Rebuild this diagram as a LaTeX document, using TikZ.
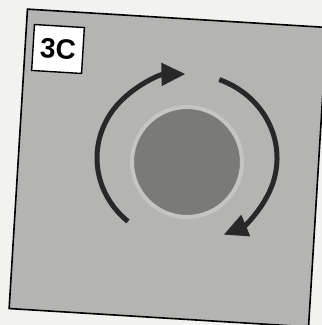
\documentclass[tikz,border=0pt]{standalone}
\usepackage{fontspec}
\setsansfont{Liberation Sans}
\usepackage{tikz}
\usetikzlibrary{arrows.meta}
\definecolor{PaperWhite}{RGB}{242,242,240}
\definecolor{PanelGrey}{RGB}{180,180,178}
\definecolor{CellGrey}{RGB}{122,122,120}
\definecolor{HaloGrey}{RGB}{196,196,194}
\definecolor{ArrowGrey}{RGB}{40,40,40}

\begin{document}
\begin{tikzpicture}[
  x=1pt, y=1pt,
  panel/.style={draw=black, line width=1.6pt, fill=PanelGrey, minimum size=300pt,
    inner sep=0pt, rotate=-3.5},
  tag/.style={draw=black, line width=1.4pt, fill=white, inner sep=0pt,
    minimum width=50pt, minimum height=46pt, rotate=-3.5,
    font=\sffamily\bfseries\fontsize{28}{28}\selectfont},
  cell/.style={circle, fill=CellGrey, draw=HaloGrey, line width=4pt,
    minimum size=110pt, inner sep=0pt},
  turn/.style={draw=ArrowGrey, line width=5pt, -{Triangle[length=24pt,width=22pt]}}
]
\fill[PaperWhite] (0,0) rectangle (322,325);
\useasboundingbox (0,0) rectangle (322,325);

\node[panel] (frame) at (168,157) {};
\node[tag] (label) at (58,276) {3C};
\node[cell] (nucleus) at (187,163) {};
\coordinate (pivot) at (187,167);

% rotation arrows round the cell
\draw[turn] ([shift={(229:90 and 84)}]pivot) arc[start angle=229, end angle=91, x radius=90, y radius=84];
\draw[turn] ([shift={(69:90 and 84)}]pivot) arc[start angle=69, end angle=-66, x radius=90, y radius=84];
\end{tikzpicture}
\end{document}
